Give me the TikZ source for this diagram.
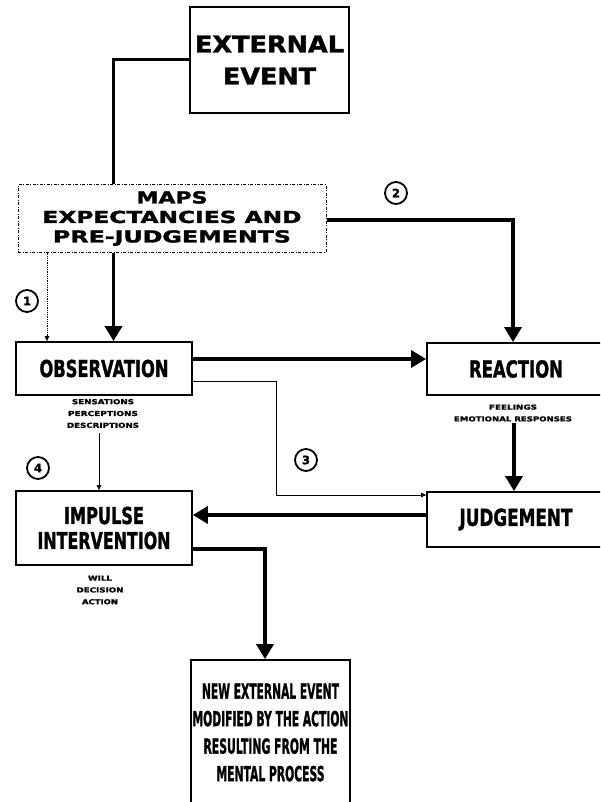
\documentclass[tikz,border=0pt]{standalone}
\usepackage{fontspec}
\setmainfont{DejaVu Sans}[BoldFeatures={FakeBold=1.6}]
\usepackage{graphicx}
\usetikzlibrary{arrows.meta}
\newcommand{\fw}[2]{\resizebox{#1pt}{\height}{#2}}
\begin{document}
\begin{tikzpicture}[x=1pt,y=-1pt,
  box/.style={draw, line width=1.8pt, inner sep=0pt, align=center},
  bigfont/.style={font=\fontsize{23.3}{32}\selectfont\bfseries},
  midfont/.style={font=\fontsize{23.3}{25}\selectfont\bfseries},
  mapfont/.style={font=\fontsize{16.5}{19.5}\selectfont\bfseries},
  newfont/.style={font=\fontsize{20.6}{27.5}\selectfont\bfseries},
  subfont/.style={font=\fontsize{6.8}{11.8}\selectfont\bfseries, align=center, inner sep=0pt},
  heavyline/.style={line width=3.5pt},
  heavyarrow/.style={line width=3.5pt, -{Triangle[width=17pt,length=15pt]}},
  thinarrow/.style={line width=0.8pt, -{Triangle[width=4.5pt,length=5pt]}},
  circ/.style={circle, draw, line width=1.8pt, minimum size=22pt, inner sep=0pt, font=\fontsize{11.5}{11.5}\selectfont\bfseries}
]
\useasboundingbox (0,0) rectangle (600,802);
\clip (0,0) rectangle (600,802);
\fill[white] (0,0) rectangle (600,802);

% boxes
\node[box, bigfont, minimum width=159pt, minimum height=106pt] (ext) at (269.5,60)
  {\fw{149}{EXTERNAL}\\\fw{93}{EVENT}};
\node[box, mapfont, line width=1pt, dash pattern=on 3pt off 1.5pt on 1pt off 1.5pt,
  minimum width=308pt, minimum height=67pt] (maps) at (172,218.5)
  {\fw{71}{MAPS}\\\fw{259}{EXPECTANCIES AND}\\\fw{238}{PRE-JUDGEMENTS}};
\node[box, midfont, minimum width=176pt, minimum height=53pt] (obs) at (104,368.5)
  {\fw{129}{OBSERVATION}};
\node[box, midfont, minimum width=178pt, minimum height=52pt] (react) at (516,369)
  {\fw{94}{REACTION}};
\node[box, midfont, minimum width=178pt, minimum height=55pt] (judg) at (516,519.5)
  {\fw{113}{JUDGEMENT}};
\node[box, midfont, minimum width=176pt, minimum height=74pt] (imp) at (104,528)
  {\fw{80}{IMPULSE}\\\fw{133}{INTERVENTION}};
\node[box, newfont, minimum width=159pt, minimum height=145pt] (new) at (270.5,732.5)
  {\fw{137}{NEW EXTERNAL EVENT}\\\fw{156}{MODIFIED BY THE ACTION}\\\fw{134}{RESULTING FROM THE}\\\fw{108}{MENTAL PROCESS}};

% small annotations
\node[subfont] (obssub) at (103,413.5)
  {\fw{62}{SENSATIONS}\\\fw{70}{PERCEPTIONS}\\\fw{72}{DESCRIPTIONS}};
\node[subfont] (reactsub) at (513,413)
  {\fw{48}{FEELINGS}\\\fw{118}{EMOTIONAL RESPONSES}};
\node[subfont] (impsub) at (100,590)
  {\fw{24}{WILL}\\\fw{47}{DECISION}\\\fw{36}{ACTION}};

% numbered circles
\node[circ] (n1) at (27,301) {1};
\node[circ] (n2) at (396,193) {2};
\node[circ] (n3) at (306,460) {3};
\node[circ] (n4) at (38,468) {4};

% helper coordinates
\coordinate (c1) at (113.5,0);
\coordinate (c2) at (47,0);
\coordinate (c3) at (513,0);
\coordinate (c4) at (0,359);
\coordinate (k1) at (276,381);
\coordinate (k2) at (276,495);
\coordinate (r1) at (514,423);
\coordinate (j1) at (0,515);
\coordinate (i1) at (265,549);
\coordinate (o1) at (99,433);

% connectors
\draw[heavyline, line width=3pt] (ext.west) -| (maps.north -| c1);
\draw[heavyarrow] (maps.south -| c1) -- (obs.north -| c1);
\draw[thinarrow, densely dotted] (maps.south -| c2) -- (obs.north -| c2);
\draw[heavyarrow] (maps.east |- 0,220) -| (react.north -| c3);
\draw[heavyarrow] (obs.east |- c4) -- (react.west |- c4);
\draw[thinarrow] (obs.east |- k1) -- (k1) -- (k2) -- (judg.west |- k2);
\draw[heavyarrow] (r1) -- (judg.north -| r1);
\draw[heavyarrow] (judg.west |- j1) -- (imp.east |- j1);
\draw[heavyarrow] (imp.east |- i1) -- (i1) -- (new.north -| i1);
\draw[thinarrow] (o1) -- (imp.north -| o1);
\end{tikzpicture}
\end{document}
